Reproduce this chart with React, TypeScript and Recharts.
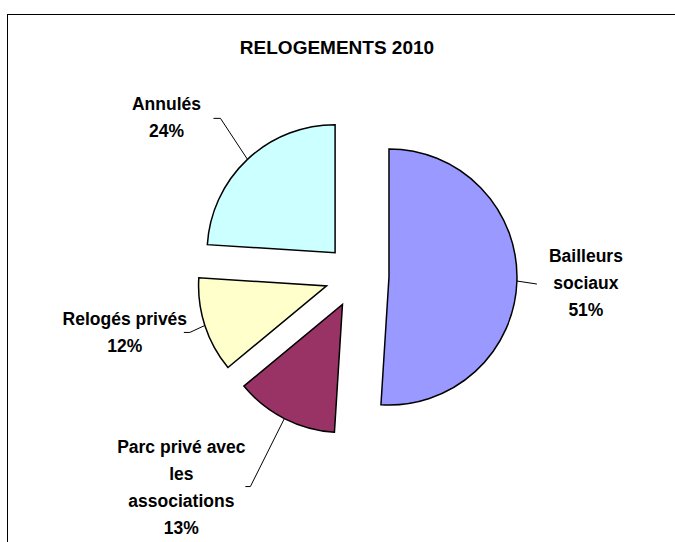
import React from "react";
import { PieChart, Pie, Cell, Customized } from "recharts";

// ---- data ----
const categories = [
  "Bailleurs sociaux",
  "Parc privé avec les associations",
  "Relogés privés",
  "Annulés",
];
const values = [51, 13, 12, 24];
const labelRows = [
  ["Bailleurs", "sociaux"],
  ["Parc privé avec", "les", "associations"],
  ["Relogés privés"],
  ["Annulés"],
];
const sliceColors = ["#9999FF", "#993366", "#FFFFCC", "#CCFFFF"];
const title = "RELOGEMENTS 2010";

// ---- layout / style ----
const W = 675;
const H = 542;
const CENTER_X = 357;
const CENTER_Y = 276;
const RADIUS = 128;
const EXPLODE = 32;
const FONT = "'Liberation Sans', Arial, Helvetica, sans-serif";
const LABEL_SIZE = 17.5;
const ROW_GAP = 27;
// per slice: elbow offset from arc point, horizontal tail, text-block centre offset from arc point
const labelLayout = [
  { ex: 20, ey: 3, tail: 0, tx: 69, ty: 2 },
  { ex: -34, ey: 68, tail: -5, tx: -103, ty: 69 },
  { ex: -15, ey: 7, tail: -6, tx: -80, ty: 7 },
  { ex: -27, ey: -41, tail: -7, tx: -81, ty: -42 },
];

const total = values.reduce((a, b) => a + b, 0);
const data = categories.map((name, i) => ({ name, value: values[i] }));

// mid angle (degrees clockwise from 12 o'clock) of every slice
const midAngles: number[] = [];
{
  let acc = 0;
  values.forEach((v) => {
    midAngles.push(((acc + v / 2) / total) * 360);
    acc += v;
  });
}
const RAD = Math.PI / 180;
const centers = midAngles.map((a) => ({
  x: CENTER_X + EXPLODE * Math.sin(a * RAD),
  y: CENTER_Y - EXPLODE * Math.cos(a * RAD),
}));

const makeLabel = (sliceIdx: number) => (props: any) => {
  if (props.index !== sliceIdx) return <g />;
  const cx = typeof props.cx === "number" ? props.cx : centers[sliceIdx].x;
  const cy = typeof props.cy === "number" ? props.cy : centers[sliceIdx].y;
  const r = typeof props.outerRadius === "number" ? props.outerRadius : RADIUS;
  const mid =
    typeof props.midAngle === "number" ? props.midAngle : 90 - midAngles[sliceIdx];
  const ax = cx + r * Math.cos(-mid * RAD);
  const ay = cy + r * Math.sin(-mid * RAD);
  const L = labelLayout[sliceIdx];
  const exx = ax + L.ex;
  const eyy = ay + L.ey;
  const rows = [...labelRows[sliceIdx], Math.round((values[sliceIdx] / total) * 100) + "%"];
  const tcx = ax + L.tx;
  const tcy = ay + L.ty;
  const top = tcy - ((rows.length - 1) * ROW_GAP) / 2;
  return (
    <g>
      <polyline
        points={`${ax},${ay} ${exx},${eyy} ${exx + L.tail},${eyy}`}
        fill="none"
        stroke="#000"
        strokeWidth={1}
      />
      <text
        x={tcx}
        textAnchor="middle"
        fontFamily={FONT}
        fontWeight="bold"
        fontSize={LABEL_SIZE}
        fill="#000"
      >
        {rows.map((row, k) => (
          <tspan key={k} x={tcx} y={top + k * ROW_GAP} dominantBaseline="central">
            {row}
          </tspan>
        ))}
      </text>
    </g>
  );
};

const Decor = () => (
  <g>
    <rect x={7.5} y={14.5} width={W} height={H} fill="none" stroke="#000" strokeWidth={1} />
    <text
      x={337}
      y={47}
      textAnchor="middle"
      dominantBaseline="central"
      fontFamily={FONT}
      fontWeight="bold"
      fontSize={19}
      fill="#000"
    >
      {title}
    </text>
  </g>
);

export default function App() {
  return (
    <div style={{ position: "absolute", left: 0, top: 0, width: W, height: H, background: "#fff" }}>
      <PieChart width={W} height={H} margin={{ top: 0, right: 0, bottom: 0, left: 0 }}>
        <Customized component={Decor} />
        {data.map((_, i) => (
          <Pie
            key={i}
            data={data}
            dataKey="value"
            nameKey="name"
            cx={centers[i].x}
            cy={centers[i].y}
            innerRadius={0}
            outerRadius={RADIUS}
            startAngle={90}
            endAngle={-270}
            isAnimationActive={false}
            label={makeLabel(i)}
            labelLine={false}
          >
            {data.map((d, j) => (
              <Cell
                key={d.name}
                fill={j === i ? sliceColors[j] : "transparent"}
                stroke={j === i ? "#000" : "none"}
                strokeWidth={1.5}
              />
            ))}
          </Pie>
        ))}
      </PieChart>
    </div>
  );
}
